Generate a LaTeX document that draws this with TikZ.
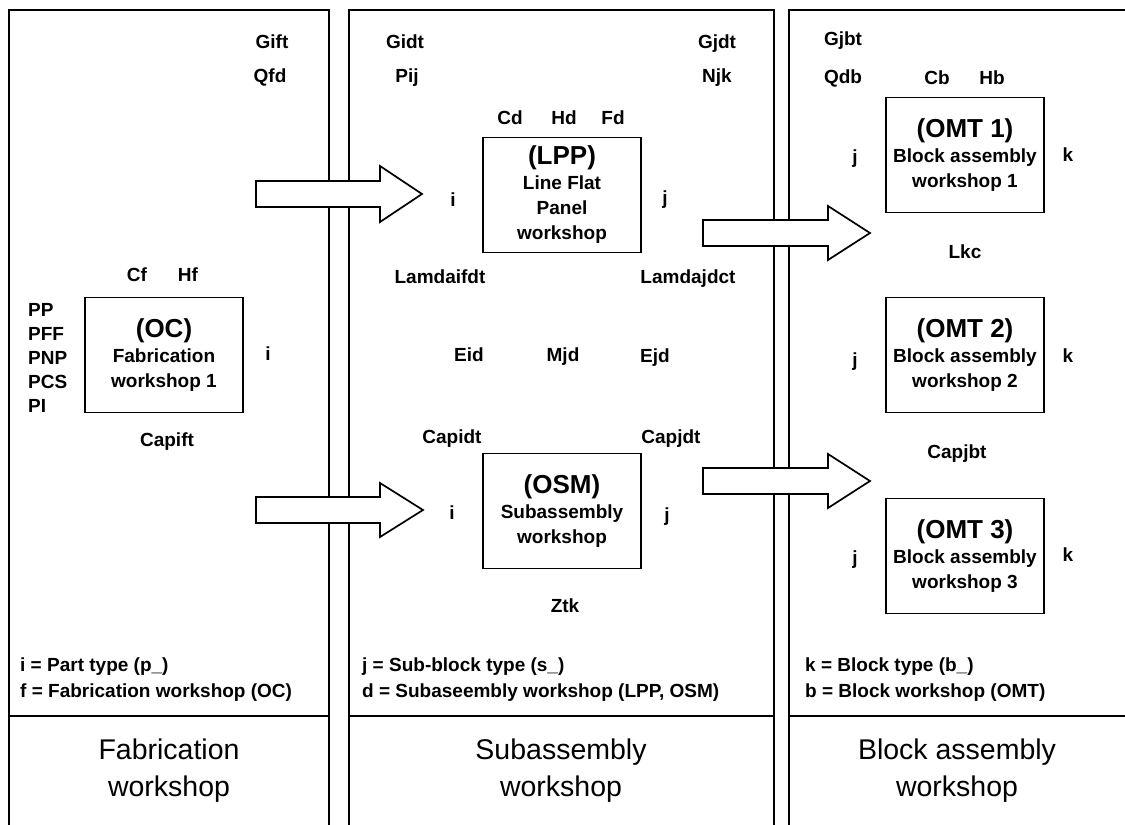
\documentclass[tikz,border=0pt]{standalone}
\usepackage{fontspec}
\setmainfont{Liberation Sans}
\newcommand{\bt}[1]{{\fontsize{26}{25}\selectfont #1}}
\begin{document}
\begin{tikzpicture}[x=1pt,y=-1pt,
  lbl/.style={font=\fontsize{19}{22}\selectfont\bfseries, inner sep=0pt, text height=13.6pt, text depth=0pt},
  lbll/.style={lbl, anchor=west},
  wbox/.style={draw, line width=1.6pt, minimum width=158pt, minimum height=115pt, align=center, inner sep=0pt, font=\fontsize{19}{25}\selectfont\bfseries},
  ttl/.style={font=\fontsize{28.5}{37}\selectfont, align=center, inner sep=0pt},
  panel/.style={line width=1.7pt},
  barrow/.style={draw, fill=white, line width=1.7pt, line join=miter}]
\useasboundingbox (0,0) rectangle (1125,825);
\fill[white] (0,0) rectangle (1125,825);
% panels
\draw[panel] (9,825) -- (9,10) -- (329,10) -- (329,825);
\draw[panel] (349,825) -- (349,10) -- (774,10) -- (774,825);
\draw[panel] (789,825) -- (789,10) -- (1125,10);
\draw[panel] (9,716) -- (329,716);
\draw[panel] (349,716) -- (774,716);
\draw[panel] (789,716) -- (1125,716);
% block arrows
\draw[barrow] (256,181) -- (380,181) -- (380,166) -- (422,194) -- (380,222) -- (380,207) -- (256,207) -- cycle;
\draw[barrow] (256,497) -- (380,497) -- (380,483) -- (423,510) -- (380,537) -- (380,523) -- (256,523) -- cycle;
\draw[barrow] (703,220) -- (828,220) -- (828,206) -- (870,233) -- (828,260) -- (828,246) -- (703,246) -- cycle;
\draw[barrow] (703,468) -- (828,468) -- (828,454) -- (870,481) -- (828,508) -- (828,494) -- (703,494) -- cycle;
% fabrication panel
\node[lbl] (gift) at (272,42) {Gift};
\node[lbl] (qfd) at (270,76) {Qfd};
\node[lbl] (cf) at (137,275) {Cf};
\node[lbl] (hf) at (188,275) {Hf};
\node[wbox] (oc) at (164,355) {\bt{(OC)}\\Fabrication\\workshop 1};
\node[lbll] (pp) at (28,310) {PP};
\node[lbll] (pff) at (28,334) {PFF};
\node[lbll] (pnp) at (28,358) {PNP};
\node[lbll] (pcs) at (28,382) {PCS};
\node[lbll] (pi) at (28,406) {PI};
\node[lbl] (ioc) at (268,354) {i};
\node[lbl] (capift) at (167,440) {Capift};
\node[lbll] (lega) at (20,665) {i = Part type (p\_)};
\node[lbll] (legb) at (20,691) {f = Fabrication workshop (OC)};
\node[ttl] (t1) at (169,771) {Fabrication\\workshop};
% subassembly panel
\node[lbl] (gidt) at (405,42) {Gidt};
\node[lbl] (pij) at (407,76) {Pij};
\node[lbl] (gjdt) at (717,42) {Gjdt};
\node[lbl] (njk) at (717,76) {Njk};
\node[lbl] (cd) at (510,118) {Cd};
\node[lbl] (hd) at (564,118) {Hd};
\node[lbl] (fd) at (613,118) {Fd};
\node[wbox] (lpp) at (562,195) {\bt{(LPP)}\\Line Flat\\Panel\\workshop};
\node[lbl] (ilpp) at (453,200) {i};
\node[lbl] (jlpp) at (665,198) {j};
\node[lbl] (lami) at (440,277) {Lamdaifdt};
\node[lbl] (lamj) at (688,277) {Lamdajdct};
\node[lbl] (eid) at (469,355) {Eid};
\node[lbl] (mjd) at (563,355) {Mjd};
\node[lbl] (ejd) at (655,356) {Ejd};
\node[lbl] (capidt) at (452,437) {Capidt};
\node[lbl] (capjdt) at (671,437) {Capjdt};
\node[wbox] (osm) at (562,511) {\bt{(OSM)}\\Subassembly\\workshop};
\node[lbl] (iosm) at (452,513) {i};
\node[lbl] (josm) at (667,515) {j};
\node[lbl] (ztk) at (565,606) {Ztk};
\node[lbll] (legc) at (362,665) {j = Sub-block type (s\_)};
\node[lbll] (legd) at (362,691) {d = Subaseembly workshop (LPP, OSM)};
\node[ttl] (t2) at (561,771) {Subassembly\\workshop};
% block assembly panel
\node[lbl] (gjbt) at (843,39) {Gjbt};
\node[lbl] (qdb) at (843,77) {Qdb};
\node[lbl] (cb) at (937,78) {Cb};
\node[lbl] (hb) at (992,78) {Hb};
\node[wbox] (omt1) at (965,155) {\bt{(OMT 1)}\\Block assembly\\workshop 1};
\node[lbl] (j1) at (855,157) {j};
\node[lbl] (k1) at (1068,155) {k};
\node[lbl] (lkc) at (965,252) {Lkc};
\node[wbox] (omt2) at (965,355) {\bt{(OMT 2)}\\Block assembly\\workshop 2};
\node[lbl] (j2) at (855,360) {j};
\node[lbl] (k2) at (1068,356) {k};
\node[lbl] (capjbt) at (957,452) {Capjbt};
\node[wbox] (omt3) at (965,556) {\bt{(OMT 3)}\\Block assembly\\workshop 3};
\node[lbl] (j3) at (855,558) {j};
\node[lbl] (k3) at (1068,555) {k};
\node[lbll] (lege) at (805,665) {k = Block type (b\_)};
\node[lbll] (legf) at (805,691) {b = Block workshop (OMT)};
\node[ttl] (t3) at (957,771) {Block assembly\\workshop};
\end{tikzpicture}
\end{document}
